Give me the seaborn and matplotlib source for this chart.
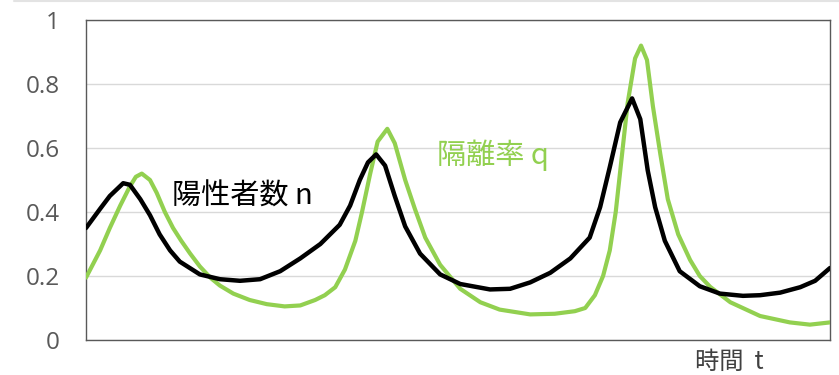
import matplotlib
matplotlib.use("Agg")
import matplotlib.pyplot as plt
from matplotlib.lines import Line2D
import pandas as pd
import seaborn as sns

# 陽性者数 n (positives) over time
t_n = [0, 1.9, 3.2, 5.0, 5.9, 7.3, 8.6, 9.9, 11.3, 12.6, 15.3, 18.0, 20.7, 23.4,
       26.1, 28.8, 31.5, 32.8, 34.1, 35.5, 36.8, 37.9, 39.0, 40.2, 41.5, 42.9,
       44.9, 47.6, 50.3, 54.3, 57.0, 59.7, 62.4, 65.1, 67.7, 69.1, 70.4, 71.8,
       73.4, 74.5, 75.5, 76.5, 77.8, 79.8, 82.5, 85.2, 88.3, 90.6, 93.3, 96.0,
       98.0, 100]
n_vals = [0.35, 0.41, 0.45, 0.49, 0.485, 0.44, 0.39, 0.33, 0.28, 0.245, 0.205,
          0.19, 0.185, 0.19, 0.215, 0.255, 0.30, 0.33, 0.36, 0.42, 0.50, 0.555,
          0.58, 0.545, 0.45, 0.355, 0.27, 0.205, 0.175, 0.158, 0.16, 0.18, 0.21,
          0.255, 0.32, 0.415, 0.54, 0.68, 0.755, 0.69, 0.53, 0.415, 0.31, 0.215,
          0.168, 0.145, 0.138, 0.14, 0.148, 0.165, 0.185, 0.225]

# 隔離率 q (isolation rate) over time
t_q = [0, 1.9, 3.2, 4.6, 5.9, 6.7, 7.5, 8.6, 9.5, 10.6, 11.7, 12.8, 14.0, 15.3,
       16.7, 18.0, 19.8, 22.0, 24.3, 26.7, 28.8, 30.8, 32.1, 33.5, 34.8, 36.2,
       37.1, 38.2, 39.2, 40.5, 41.5, 42.9, 44.2, 45.6, 47.6, 50.3, 53.0, 55.6,
       59.7, 63.0, 65.7, 67.1, 68.4, 69.5, 70.4, 71.2, 72.0, 72.8, 73.8, 74.6,
       75.4, 76.2, 77.2, 78.2, 79.6, 81.2, 82.5, 83.9, 86.6, 90.6, 94.6, 97.3,
       100]
q_vals = [0.195, 0.28, 0.35, 0.42, 0.48, 0.51, 0.52, 0.50, 0.46, 0.40, 0.35,
          0.31, 0.27, 0.23, 0.195, 0.17, 0.145, 0.125, 0.112, 0.105, 0.108,
          0.125, 0.14, 0.165, 0.22, 0.31, 0.40, 0.52, 0.62, 0.66, 0.615, 0.50,
          0.41, 0.32, 0.235, 0.16, 0.118, 0.095, 0.08, 0.082, 0.09, 0.10, 0.14,
          0.20, 0.28, 0.40, 0.57, 0.74, 0.88, 0.92, 0.875, 0.73, 0.58, 0.44,
          0.33, 0.25, 0.20, 0.166, 0.118, 0.075, 0.055, 0.048, 0.055]

y_ticks = [0, 0.2, 0.4, 0.6, 0.8, 1]
y_tick_labels = ["0", "0.2", "0.4", "0.6", "0.8", "1"]

label_n = "陽性者数 n"
label_q = "隔離率 q"
label_t = "時間  t"

BLACK = "#000000"
GREEN = "#92D050"

sns.set_theme(style="white")
plt.rcParams["font.family"] = ["Noto Sans CJK JP", "DejaVu Sans"]

df_n = pd.DataFrame({"t": t_n, "value": n_vals})
df_q = pd.DataFrame({"t": t_q, "value": q_vals})

fig = plt.figure(figsize=(8.39, 3.75), dpi=100)
ax = fig.add_axes([86 / 839, 35 / 375, 744 / 839, 320 / 375])

sns.lineplot(data=df_q, x="t", y="value", ax=ax, color=GREEN, linewidth=3.0,
             solid_joinstyle="round", solid_capstyle="round", zorder=3)
sns.lineplot(data=df_n, x="t", y="value", ax=ax, color=BLACK, linewidth=3.2,
             solid_joinstyle="round", solid_capstyle="round", zorder=4)

ax.set_xlim(0, 100)
ax.set_ylim(0, 1)
ax.set_yticks(y_ticks)
ax.set_yticklabels(y_tick_labels, fontfamily="Open Sans", fontsize=17.5,
                   color="#595959")
ax.set_xticks([])
ax.set_xlabel("")
ax.set_ylabel("")
ax.tick_params(axis="y", length=0, pad=19)

ax.grid(axis="y", color="#D9D9D9", linewidth=1.0)
ax.set_axisbelow(True)
for side in ax.spines.values():
    side.set_visible(True)
    side.set_color("#595959")
    side.set_linewidth(1.0)

ax.text(11.6, 0.447, label_n, color=BLACK, fontsize=21, ha="left",
        va="center")
ax.text(47.2, 0.578, label_q, color=GREEN, fontsize=21, ha="left",
        va="center")
ax.text(81.8, -0.069, label_t, color="#404040", fontsize=17.5, ha="left",
        va="center", transform=ax.get_xaxis_transform(), clip_on=False)

# thin rule along the top edge of the figure
fig.add_artist(Line2D([14 / 839, 1], [1 - 1 / 375, 1 - 1 / 375],
                      transform=fig.transFigure, color="#E3E3E3",
                      linewidth=1.5))

fig.savefig("out.png", dpi=100)
